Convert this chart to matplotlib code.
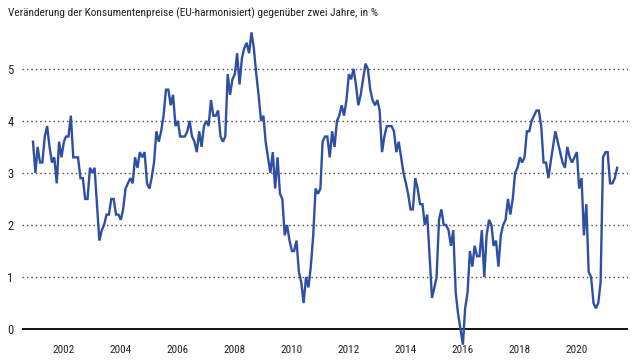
import matplotlib
matplotlib.use("Agg")
import matplotlib.pyplot as plt
import matplotlib.dates as mdates
from matplotlib import font_manager
import pandas as pd

# schmale Schrift, falls vorhanden
wanted = ['Liberation Sans Narrow', 'Roboto Condensed', 'Noto Sans Condensed',
          'Open Sans Condensed', 'DejaVu Sans']
have = {f.name for f in font_manager.fontManager.ttflist}
plt.rcParams['font.family'] = [f for f in wanted if f in have] or ['DejaVu Sans']
plt.rcParams['font.stretch'] = 'condensed'

title = "Veränderung der Konsumentenpreise (EU-harmonisiert) gegenüber zwei Jahre, in %"
start = "2001-01-01"

# HVPI, Veränderung gegenüber zwei Jahre (monatlich)
values = [
    3.6, 3.0, 3.5, 3.2, 3.2, 3.7, 3.9, 3.5, 3.2, 3.3,
    2.8, 3.6, 3.3, 3.6, 3.7, 3.7, 4.1, 3.3, 3.3, 3.3,
    2.9, 2.9, 2.5, 2.5, 3.1, 3.0, 3.1, 2.4, 1.7, 1.9,
    2.0, 2.2, 2.2, 2.5, 2.5, 2.2, 2.2, 2.1, 2.3, 2.7,
    2.8, 2.9, 2.8, 3.3, 3.1, 3.4, 3.3, 3.4, 2.8, 2.7,
    2.9, 3.2, 3.8, 3.6, 3.8, 4.1, 4.6, 4.6, 4.3, 4.5,
    3.9, 4.0, 3.7, 3.7, 3.7, 3.8, 4.0, 3.7, 3.6, 3.4,
    3.8, 3.5, 3.9, 4.0, 3.9, 4.4, 4.1, 4.1, 4.2, 3.7,
    3.6, 3.7, 4.9, 4.5, 4.8, 4.9, 5.3, 4.7, 5.2, 5.4,
    5.5, 5.3, 5.7, 5.4, 4.9, 4.5, 4.0, 4.1, 3.6, 3.3,
    3.0, 3.4, 2.7, 3.3, 2.6, 2.5, 1.8, 2.0, 1.7, 1.5,
    1.5, 1.7, 1.1, 0.9, 0.5, 1.0, 0.8, 1.2, 1.8, 2.7,
    2.6, 2.7, 3.6, 3.7, 3.7, 3.3, 3.8, 3.5, 4.0, 4.1,
    4.3, 4.1, 4.4, 4.9, 4.8, 5.0, 4.7, 4.3, 4.5, 4.8,
    5.1, 5.0, 4.6, 4.4, 4.3, 4.4, 4.2, 3.4, 3.7, 3.9,
    3.9, 3.9, 3.8, 3.4, 3.6, 3.3, 3.0, 2.8, 2.6, 2.3,
    2.3, 2.9, 2.7, 2.4, 2.4, 2.0, 2.2, 1.4, 0.6, 0.8,
    1.0, 2.1, 2.3, 2.0, 2.0, 1.9, 1.6, 1.9, 0.7, 0.3,
    0.0, -0.3, 0.4, 0.7, 1.5, 1.2, 1.6, 1.4, 1.4, 1.9,
    1.0, 1.8, 2.1, 2.0, 1.6, 1.7, 1.2, 1.8, 2.0, 2.1,
    2.5, 2.2, 2.5, 3.0, 3.1, 3.3, 3.2, 3.3, 3.8, 3.8,
    4.0, 4.1, 4.2, 4.2, 3.9, 3.2, 3.2, 2.9, 3.2, 3.5,
    3.8, 3.6, 3.4, 3.2, 3.1, 3.5, 3.3, 3.2, 3.3, 3.4,
    2.7, 2.9, 1.8, 2.4, 1.1, 1.0, 0.5, 0.4, 0.5, 0.9,
    3.3, 3.4, 3.4, 2.8, 2.8, 2.9, 3.1,
]
yticks = [0, 1, 2, 3, 4, 5]

dates = pd.date_range(start, periods=len(values), freq="MS")

fig = plt.figure(figsize=(6.4, 3.6), dpi=100)
ax = fig.add_axes([22/640, 12.7/360, 606/640, 330.5/360])

ax.plot(dates, values, color="#2f4fa2", lw=1.7, clip_on=False,
        solid_joinstyle="miter", zorder=3)
ax.axhline(0, color="black", lw=1.3, zorder=2)
for y in yticks[1:]:
    ax.axhline(y, color="#444444", lw=1.0, ls=(0, (1, 2.2)), zorder=1)

ax.set_ylim(-0.35, 6.0)
ax.set_xlim(pd.Timestamp(start) - pd.Timedelta(days=141),
            pd.Timestamp(start) + pd.Timedelta(days=7625))
ax.set_yticks(yticks)
ax.xaxis.set_major_locator(mdates.YearLocator(2, month=1, day=25))
ax.xaxis.set_major_formatter(mdates.DateFormatter("%Y"))
ax.tick_params(length=0, labelsize=9, colors="#222222")
ax.tick_params(axis="y", pad=6)
ax.tick_params(axis="x", pad=-2, labelsize=8)
for s in ax.spines.values():
    s.set_visible(False)

fig.text(8/640, 1 - 13/360, title, fontsize=8.2, color="#222222", va="center")

fig.savefig("out.png", dpi=100)
